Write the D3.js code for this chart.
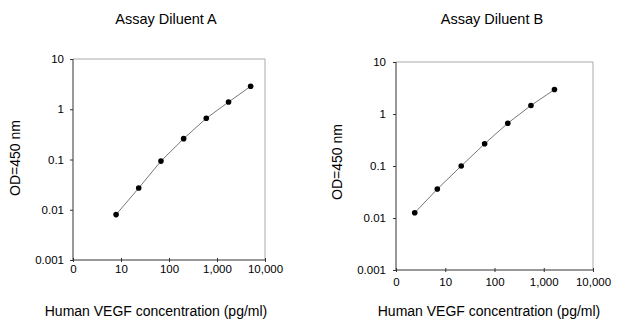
<!DOCTYPE html>
<html>
<head>
<meta charset="utf-8">
<script src="https://cdn.jsdelivr.net/npm/d3@7"></script>
<style>
  html, body { margin: 0; padding: 0; background: #fff; }
  svg text { font-family: "Liberation Sans", Arial, Helvetica, sans-serif; fill: #000; }
</style>
</head>
<body>
<svg id="chart" width="639" height="320"></svg>
<script>
// ---- data ----
const panelTitles = ["Assay Diluent A", "Assay Diluent B"];
const xTickValues = [1, 10, 100, 1000, 10000];
const xTickLabels = ["0", "10", "100", "1,000", "10,000"];
const yTickValues = [0.001, 0.01, 0.1, 1, 10];
const yTickLabels = ["0.001", "0.01", "0.1", "1", "10"];
const concA = [7.9, 23.4, 68, 202, 598, 1740, 5020];
const odA   = [0.008, 0.027, 0.093, 0.26, 0.66, 1.39, 2.86];
const concB = [2.4, 6.9, 21.1, 63, 186, 550, 1650];
const odB   = [0.0126, 0.036, 0.10, 0.267, 0.665, 1.46, 2.95];
const xLabel = "Human VEGF concentration (pg/ml)";
const yLabel = "OD=450 nm";

const panels = [
  { title: panelTitles[0], conc: concA, od: odA,
    x0: 73, x1: 265, y0: 260, y1: 59, titleX: 166, titleY: 24,
    xlabX: 156, ylabX: 20, ylabY: 158, tickLabY: 13, yPad: 6 },
  { title: panelTitles[1], conc: concB, od: odB,
    x0: 396, x1: 593, y0: 270, y1: 62, titleX: 492, titleY: 24,
    xlabX: 489, ylabX: 342, ylabY: 162, tickLabY: 16, yPad: 7 }
];

const svg = d3.select("#chart");

panels.forEach(p => {
  const x = d3.scaleLog().domain([1, 10000]).range([p.x0, p.x1]);
  const y = d3.scaleLog().domain([0.001, 10]).range([p.y0, p.y1]);
  const g = svg.append("g");

  // frame: top & right light grey
  g.append("line").attr("x1", p.x0).attr("x2", p.x1).attr("y1", p.y1).attr("y2", p.y1)
    .attr("stroke", "#aaa").attr("stroke-width", 1);
  g.append("line").attr("x1", p.x1).attr("x2", p.x1).attr("y1", p.y1).attr("y2", p.y0)
    .attr("stroke", "#aaa").attr("stroke-width", 1);

  // x axis
  const xAxis = d3.axisBottom(x).tickValues(xTickValues)
    .tickFormat((d, i) => xTickLabels[i]).tickSize(3).tickPadding(p.tickLabY - 11);
  const gx = g.append("g").attr("transform", `translate(0,${p.y0})`).call(xAxis);
  gx.select(".domain").attr("stroke", "#333").attr("d", `M${p.x0},0H${p.x1}`);
  gx.selectAll(".tick line").attr("stroke", "#333").attr("y1", -2).attr("y2", 2);
  gx.selectAll(".tick text").style("font-size", "11.5px").attr("fill", "#000");

  // y axis
  const yAxis = d3.axisLeft(y).tickValues(yTickValues)
    .tickFormat((d, i) => yTickLabels[i]).tickSize(3).tickPadding(p.yPad);
  const gy = g.append("g").attr("transform", `translate(${p.x0},0)`).call(yAxis);
  gy.select(".domain").attr("stroke", "#333").attr("d", `M0,${p.y0}V${p.y1}`);
  gy.selectAll(".tick line").attr("stroke", "#333");
  gy.selectAll(".tick text").style("font-size", "11.5px").attr("fill", "#000");

  // data
  const pts = p.conc.map((c, i) => [c, p.od[i]]);
  g.append("path").datum(pts)
    .attr("fill", "none").attr("stroke", "#777").attr("stroke-width", 1)
    .attr("d", d3.line().x(d => x(d[0])).y(d => y(d[1])));
  g.selectAll("circle").data(pts).join("circle")
    .attr("cx", d => x(d[0])).attr("cy", d => y(d[1])).attr("r", 2.8).attr("fill", "#000");

  // titles and labels
  svg.append("text").attr("x", p.titleX).attr("y", p.titleY).attr("text-anchor", "middle")
    .style("font-size", "14.5px").text(p.title);
  svg.append("text").attr("x", p.xlabX).attr("y", 316).attr("text-anchor", "middle")
    .style("font-size", "14px").text(xLabel);
  svg.append("text").attr("transform", `translate(${p.ylabX},${p.ylabY}) rotate(-90)`)
    .attr("text-anchor", "middle").style("font-size", "14px").text(yLabel);
});
</script>
</body>
</html>
